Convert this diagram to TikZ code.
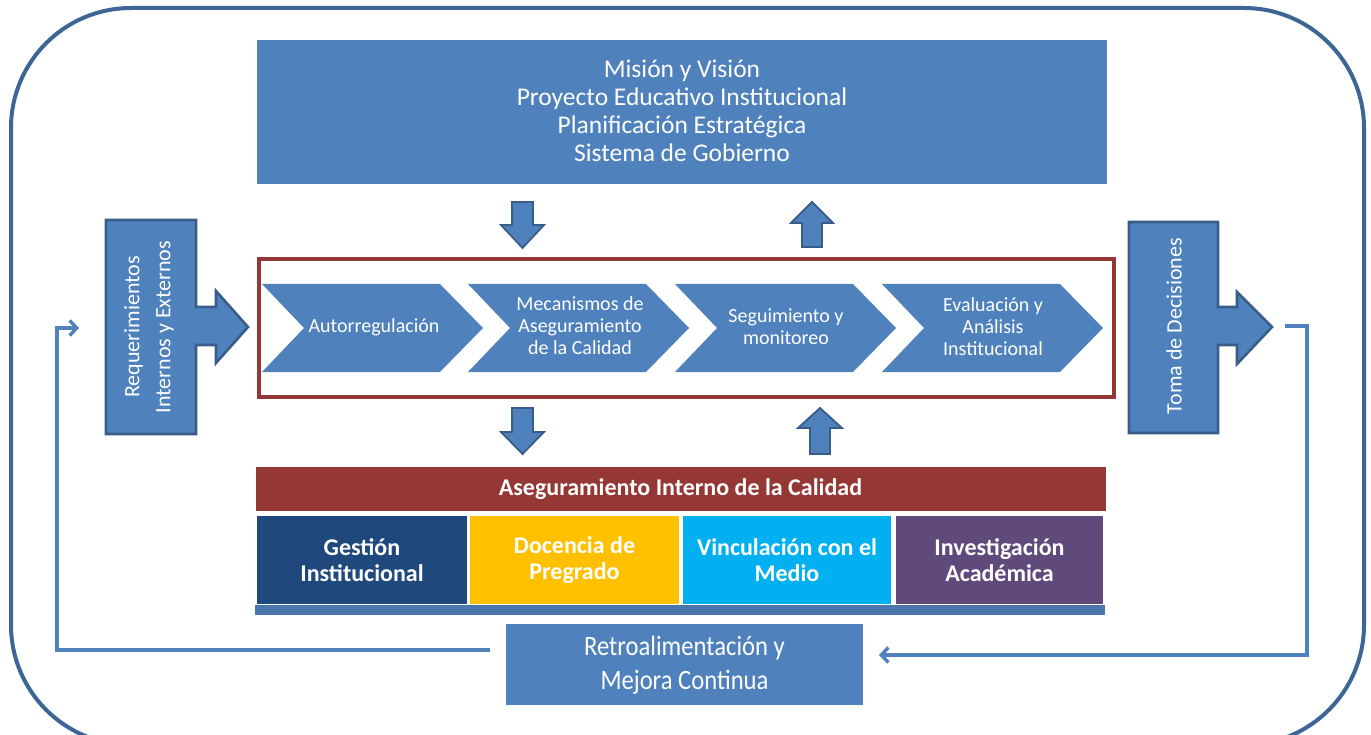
\documentclass[tikz,border=0pt]{standalone}
\usepackage{fontspec}
\setmainfont{Carlito}
\newfontfamily\condfont[FakeStretch=0.88]{Carlito}
\usetikzlibrary{arrows.meta}
\definecolor{blueA}{HTML}{4F81BD}
\definecolor{darkB}{HTML}{385D8A}
\definecolor{redA}{HTML}{953735}
\definecolor{navy}{HTML}{1F497D}
\definecolor{goldA}{HTML}{FFC000}
\definecolor{cyanA}{HTML}{00B0F0}
\definecolor{purpleA}{HTML}{604A7B}
\definecolor{barB}{HTML}{4A76AC}
\definecolor{outerB}{HTML}{3D6596}
\tikzset{
  boxtxt/.style={text=white, align=center, inner sep=0pt},
  blockarrow/.style={fill=blueA, draw=darkB, line width=2.6pt, line join=miter},
  chev/.style={fill=blueA},
  chevtxt/.style={boxtxt, font=\fontsize{20}{22}\selectfont},
  area/.style={minimum width=#1, minimum height=88pt, inner sep=0pt, text=white, align=center, font=\bfseries\fontsize{24}{26}\selectfont},
  fb/.style={draw=blueA, line width=3.4pt, -{Straight Barb[length=7pt,width=15pt,line width=3.4pt]}},
}
\begin{document}
\begin{tikzpicture}[x=1pt,y=-1pt]
\useasboundingbox (0,0) rectangle (1371,735);
\begin{scope}
\clip (0,0) rectangle (1371,735);
\draw[outerB, line width=4pt, rounded corners=120pt] (11,8) rectangle (1364,745);
\end{scope}

% top box
\node[fill=blueA, minimum width=850pt, minimum height=144pt, inner sep=0pt] (top) at (682,112) {};
\node[boxtxt, font=\fontsize{25.5}{28}\selectfont] (toptxt) at (682,111) {Misión y Visión\\Proyecto Educativo Institucional\\Planificación Estratégica\\Sistema de Gobierno};

% left block
\draw[blockarrow] (106,220) -- (196,220) -- (196,307) -- (216,307) -- (216,291) -- (248,327) -- (216,363) -- (216,345) -- (196,345) -- (196,434) -- (106,434) -- cycle;
\node[boxtxt, rotate=90, font=\fontsize{22}{31}\selectfont] (req) at (149,327) {Requerimientos\\Internos y Externos};

% right block
\draw[blockarrow] (1129,222) -- (1218,222) -- (1218,307) -- (1237,307) -- (1237,292) -- (1272,327) -- (1237,364) -- (1237,345) -- (1218,345) -- (1218,433) -- (1129,433) -- cycle;
\node[boxtxt, rotate=90, font=\fontsize{22}{31}\selectfont] (toma) at (1174,326) {Toma de Decisiones};

% red frame
\draw[redA, line width=3.4pt] (259,259) rectangle (1114,397);
\node[inner sep=0pt] (frame) at (686,328) {};

% chevrons
\foreach \x in {262,468,675,882}{
  \fill[chev] (\x,284) -- ({\x+178},284) -- ({\x+221},328) -- ({\x+178},372) -- (\x,372) -- ({\x+42},328) -- cycle;
}
\node[chevtxt] (c1) at (374,327) {Autorregulación};
\node[chevtxt] (c2) at (580,326) {Mecanismos de\\Aseguramiento\\de la Calidad};
\node[chevtxt] (c3) at (786,327) {Seguimiento y\\monitoreo};
\node[chevtxt] (c4) at (993,327) {Evaluación y\\Análisis\\Institucional};

% small arrows
\draw[blockarrow, line width=1.8pt] (512,202) -- (533,202) -- (533,225) -- (544,225) -- (522.5,248) -- (501,225) -- (512,225) -- cycle;
\draw[blockarrow, line width=1.8pt] (802,247) -- (822,247) -- (822,223) -- (833,223) -- (812,202) -- (791,223) -- (802,223) -- cycle;
\draw[blockarrow, line width=1.8pt] (512,408) -- (533,408) -- (533,432) -- (544,432) -- (522.5,454) -- (501,432) -- (512,432) -- cycle;
\draw[blockarrow, line width=1.8pt] (810,454) -- (830,454) -- (830,428) -- (842,428) -- (820,408) -- (798,428) -- (810,428) -- cycle;

% banner
\node[fill=redA, minimum width=850pt, minimum height=44pt, inner sep=0pt, text=white, font=\bfseries\fontsize{24}{26}\selectfont] (banner) at (680.5,489) {Aseguramiento Interno de la Calidad};

% areas
\node[area=210pt, fill=navy] (a1) at (362,560) {Gestión\\Institucional};
\node[area=209pt, fill=goldA] (a2) at (574.5,560) {Docencia de\\Pregrado};
\node[area=208pt, fill=cyanA] (a3) at (787,560) {Vinculación con el\\Medio};
\node[area=207pt, fill=purpleA] (a4) at (999.5,560) {Investigación\\Académica};

% bottom bar
\fill[barB] (255,605) rectangle (1105,615);

% retro box
\node[fill=blueA, minimum width=357pt, minimum height=81pt, inner sep=0pt] (retro) at (684.5,664.5) {};
\node[boxtxt, font=\condfont\fontsize{28}{34}\selectfont] (retrotxt) at (684.5,665) {Retroalimentación y\\Mejora Continua};

% feedback lines
\coordinate (r0) at (1285,326);
\coordinate (r1) at (1307,326);
\coordinate (r2) at (1307,655);
\coordinate (rend) at (879,655);
\draw[fb] (r0) -- (r1) -- (r2) -- (rend);
\coordinate (l0) at (490,650);
\coordinate (l1) at (57,650);
\coordinate (l2) at (57,328);
\coordinate (lend) at (79,328);
\draw[fb] (l0) -- (l1) -- (l2) -- (lend);
\end{tikzpicture}
\end{document}
